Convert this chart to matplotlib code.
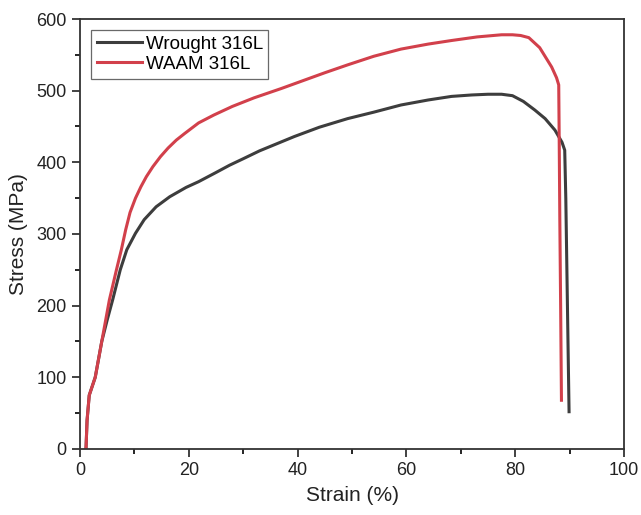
import matplotlib.pyplot as plt
from matplotlib.ticker import MultipleLocator

plt.rcParams["font.family"] = ["Liberation Sans", "DejaVu Sans"]

# Wrought 316L curve (strain %, stress MPa)
wrought_strain = [1.1, 1.3, 1.7, 2.8, 4.0, 5.0, 6.0, 7.4, 8.6, 10.2, 11.8, 14.0,
                  16.5, 19.5, 21.8, 24.8, 27.5, 30.0, 33.0, 39.4, 44.0, 49.2,
                  54.0, 59.0, 64.0, 68.3, 72.0, 75.0, 77.5, 79.5, 81.5, 83.6,
                  85.5, 87.3, 88.6, 89.1, 89.3, 89.5, 89.7, 89.9]
wrought_stress = [0, 40, 75, 100, 150, 180, 208, 250, 278, 301, 320, 338,
                  352, 365, 373, 385, 396, 405, 416, 436, 449, 461,
                  470, 480, 487, 492, 494, 495, 495, 493, 485, 473,
                  461, 445, 428, 417, 350, 250, 150, 52]

# WAAM 316L curve
waam_strain = [1.1, 1.3, 1.7, 2.8, 4.0, 5.4, 6.7, 7.6, 8.4, 9.2, 10.2, 11.2,
               12.2, 13.4, 14.8, 16.2, 17.7, 19.2, 21.8, 24.6, 28.0, 32.0,
               37.0, 41.0, 45.0, 49.2, 54.0, 59.0, 64.0, 68.3, 73.0, 77.5,
               79.5, 81.0, 82.5, 84.5, 86.7, 87.6, 88.0, 88.1, 88.2, 88.35, 88.5]
waam_stress = [0, 40, 75, 100, 150, 208, 250, 278, 306, 330, 350, 366,
               380, 394, 408, 420, 431, 440, 455, 466, 478, 490,
               503, 514, 525, 536, 548, 558, 565, 570, 575, 578,
               578, 577, 574, 560, 533, 518, 508, 420, 320, 200, 68]

fig = plt.figure(figsize=(6.41, 5.15), dpi=100)
ax = fig.add_axes([0.1248, 0.1282, 0.8487, 0.8349])

ax.plot(wrought_strain, wrought_stress, color="#3d3d3d", lw=2.2, label="Wrought 316L")
ax.plot(waam_strain, waam_stress, color="#d2404b", lw=2.2, label="WAAM 316L")

ax.set_xlim(0, 100)
ax.set_ylim(0, 600)
ax.xaxis.set_major_locator(MultipleLocator(20))
ax.xaxis.set_minor_locator(MultipleLocator(10))
ax.yaxis.set_major_locator(MultipleLocator(100))
ax.yaxis.set_minor_locator(MultipleLocator(50))
ax.tick_params(which="major", direction="out", length=6, width=1.2,
               labelsize=13, colors="#222222")
ax.tick_params(which="minor", direction="out", length=3.5, width=1.2)
for s in ax.spines.values():
    s.set_linewidth(1.3)
    s.set_color("#333333")

ax.set_xlabel("Strain (%)", fontsize=15, color="#222222", labelpad=5)
ax.set_ylabel("Stress (MPa)", fontsize=15, color="#222222", labelpad=6)

leg = ax.legend(loc="upper left", fontsize=13.5, frameon=True, fancybox=False,
                borderpad=0.3, handlelength=2.4, handletextpad=0.2,
                labelspacing=0.15, borderaxespad=0.6)
leg.get_frame().set_edgecolor("#444444")
leg.get_frame().set_linewidth(0.9)

plt.savefig("out.png", dpi=100)
